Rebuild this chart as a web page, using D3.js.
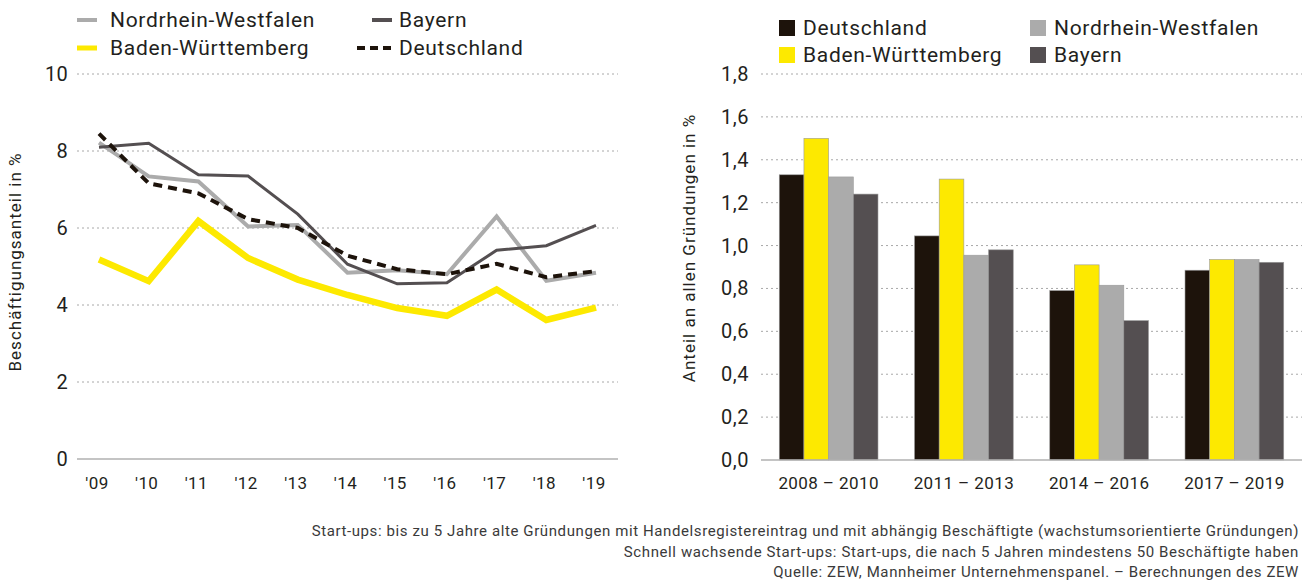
<!DOCTYPE html>
<html><head><meta charset="utf-8">
<script src="https://cdn.jsdelivr.net/npm/d3@7"></script>
<style>
html,body{margin:0;padding:0;background:#fff;overflow:hidden;}
svg{display:block;font-family:Roboto,"Noto Sans",sans-serif;}
</style></head><body>
<svg id="c" width="1302" height="582"></svg>
<script>
// ---- Left chart data ----
const years = ["'09","'10","'11","'12","'13","'14","'15","'16","'17","'18","'19"];
const nrwLine = [8.22, 7.34, 7.21, 6.04, 6.08, 4.84, 4.9, 4.8, 6.3, 4.63, 4.84];
const bayernLine = [8.1, 8.2, 7.38, 7.35, 6.36, 5.06, 4.55, 4.58, 5.42, 5.54, 6.07];
const deLine = [8.45, 7.16, 6.9, 6.23, 6.0, 5.28, 4.93, 4.8, 5.07, 4.72, 4.88];
const bwLine = [5.18, 4.62, 6.18, 5.22, 4.66, 4.26, 3.92, 3.72, 4.4, 3.61, 3.93];
const leftTicks = [0, 2, 4, 6, 8, 10];
const leftTitle = "Beschäftigungsanteil in %";

// ---- Right chart data ----
const periods = ["2008 – 2010", "2011 – 2013", "2014 – 2016", "2017 – 2019"];
const deBars = [1.33, 1.045, 0.79, 0.885];
const bwBars = [1.50, 1.31, 0.91, 0.935];
const nrwBars = [1.32, 0.955, 0.815, 0.935];
const bayernBars = [1.24, 0.98, 0.65, 0.922];
const rightTicks = [0, 0.2, 0.4, 0.6, 0.8, 1.0, 1.2, 1.4, 1.6, 1.8];
const rightTitle = "Anteil an allen Gründungen in %";

const footer = [
  "Start-ups: bis zu 5 Jahre alte Gründungen mit Handelsregistereintrag und mit abhängig Beschäftigte (wachstumsorientierte Gründungen)",
  "Schnell wachsende Start-ups: Start-ups, die nach 5 Jahren mindestens 50 Beschäftigte haben",
  "Quelle: ZEW, Mannheimer Unternehmenspanel. – Berechnungen des ZEW"
];

const C = {de:"#1d130b", bw:"#fde900", nrw:"#ababab", by:"#544f51", text:"#231f20", grid:"#a8a8a8"};
const svg = d3.select("#c");
const fmt = d3.format(".1f");

// ===== Left chart =====
const L = {x0:77, x1:618, top:74, bottom:459};
const xL = d3.scalePoint().domain(years).range([99, 596]);
const yL = d3.scaleLinear().domain([0, 10]).range([L.bottom, L.top]);

const gL = svg.append("g");
gL.selectAll("line.grid").data(leftTicks).join("line")
  .attr("x1", L.x0).attr("x2", L.x1)
  .attr("y1", d => yL(d)).attr("y2", d => yL(d))
  .attr("stroke", d => d === 0 ? "#b0b0b0" : C.grid)
  .attr("stroke-width", d => d === 0 ? 1.5 : 1)
  .attr("stroke-dasharray", d => d === 0 ? null : "2,3");
gL.selectAll("text.yt").data(leftTicks).join("text")
  .attr("x", 68).attr("y", d => yL(d)).attr("dy", "0.35em")
  .attr("text-anchor", "end").attr("font-size", 20).attr("letter-spacing", 0.3).attr("fill", C.text)
  .text(d => d);
gL.selectAll("text.xt").data(years).join("text")
  .attr("x", d => xL(d) - 2).attr("y", 483).attr("dy", "0.35em")
  .attr("text-anchor", "middle").attr("font-size", 17).attr("letter-spacing", 0.4).attr("fill", C.text)
  .text(d => d);
gL.append("text").attr("transform", `translate(21,262) rotate(-90)`)
  .attr("text-anchor", "middle").attr("font-size", 17).attr("letter-spacing", 1).attr("fill", C.text)
  .text(leftTitle);

const lineGen = d3.line().x((d, i) => xL(years[i])).y(d => yL(d));
const seriesL = [
  {v: bwLine, c: C.bw, w: 6.5, dash: null},
  {v: nrwLine, c: C.nrw, w: 4, dash: null},
  {v: bayernLine, c: C.by, w: 3, dash: null},
  {v: deLine, c: C.de, w: 4, dash: "9,6"}
];
gL.selectAll("path.ln").data(seriesL).join("path")
  .attr("d", d => lineGen(d.v)).attr("fill", "none")
  .attr("stroke", d => d.c).attr("stroke-width", d => d.w)
  .attr("stroke-dasharray", d => d.dash).attr("stroke-linejoin", "miter");

// left legend
const legL = [
  {t:"Nordrhein-Westfalen", c:C.nrw, y:20, w:4, dash:null, sx0:77, sx1:97, tx:110},
  {t:"Bayern", c:C.by, y:20, w:4, dash:null, sx0:372, sx1:392, tx:399},
  {t:"Baden-Württemberg", c:C.bw, y:48, w:5, dash:null, sx0:77, sx1:97, tx:110},
  {t:"Deutschland", c:C.de, y:48, w:4, dash:"8,5", sx0:357, sx1:392, tx:399}
];
legL.forEach(d => {
  gL.append("line").attr("x1", d.sx0).attr("x2", d.sx1).attr("y1", d.y).attr("y2", d.y)
    .attr("stroke", d.c).attr("stroke-width", d.w).attr("stroke-dasharray", d.dash);
  gL.append("text").attr("x", d.tx).attr("y", d.y).attr("dy", "0.35em")
    .attr("font-size", 21).attr("letter-spacing", 0.7).attr("fill", C.text).text(d.t);
});

// ===== Right chart =====
const R = {x0:761, x1:1302, top:74, bottom:460};
const xR = d3.scaleBand().domain(periods).range([R.x0, R.x1]).paddingInner(0.27).paddingOuter(0.135);
const keys = ["de","bw","nrw","by"];
const xSub = d3.scaleBand().domain(keys).range([0, xR.bandwidth()]);
const yR = d3.scaleLinear().domain([0, 1.8]).range([R.bottom, R.top]);
const gR = svg.append("g");
gR.selectAll("line.grid").data(rightTicks.filter(d => d > 0)).join("line")
  .attr("x1", R.x0).attr("x2", R.x1)
  .attr("y1", d => yR(d)).attr("y2", d => yR(d))
  .attr("stroke", C.grid).attr("stroke-dasharray", "2,3");
gR.selectAll("text.yt").data(rightTicks).join("text")
  .attr("x", 749).attr("y", d => yR(d)).attr("dy", "0.35em")
  .attr("text-anchor", "end").attr("font-size", 20).attr("letter-spacing", 0.5).attr("fill", C.text)
  .text(d => fmt(d).replace(".", ","));
gR.append("text").attr("transform", `translate(695,248) rotate(-90)`)
  .attr("text-anchor", "middle").attr("font-size", 17).attr("letter-spacing", 1).attr("fill", C.text)
  .text(rightTitle);

const barData = [];
periods.forEach((p, i) => {
  barData.push({p, k:"de", v:deBars[i]});
  barData.push({p, k:"bw", v:bwBars[i]});
  barData.push({p, k:"nrw", v:nrwBars[i]});
  barData.push({p, k:"by", v:bayernBars[i]});
});
gR.selectAll("rect.bar").data(barData).join("rect")
  .attr("x", d => xR(d.p) + xSub(d.k)).attr("width", xSub.bandwidth())
  .attr("y", d => yR(d.v)).attr("height", d => yR(0) - yR(d.v))
  .attr("fill", d => C[d.k]).attr("stroke", "#9a9a9a").attr("stroke-width", 0.6);
gR.append("line").attr("x1", R.x0).attr("x2", R.x1).attr("y1", yR(0)).attr("y2", yR(0))
  .attr("stroke", "#b0b0b0").attr("stroke-width", 1.5);
gR.selectAll("text.xt").data(periods).join("text")
  .attr("x", d => xR(d) + xR.bandwidth() / 2).attr("y", 483).attr("dy", "0.35em")
  .attr("text-anchor", "middle").attr("font-size", 17).attr("letter-spacing", 0.4).attr("fill", C.text)
  .text(d => d);

const legR = [
  {t:"Deutschland", c:C.de, x:779, y:28},
  {t:"Nordrhein-Westfalen", c:C.nrw, x:1030, y:28},
  {t:"Baden-Württemberg", c:C.bw, x:779, y:55},
  {t:"Bayern", c:C.by, x:1030, y:55}
];
legR.forEach(d => {
  gR.append("rect").attr("x", d.x).attr("y", d.y - 8).attr("width", 16).attr("height", 16).attr("fill", d.c);
  gR.append("text").attr("x", d.x + 24).attr("y", d.y).attr("dy", "0.35em")
    .attr("font-size", 21).attr("letter-spacing", 0.7).attr("fill", C.text).text(d.t);
});

// footer
svg.selectAll("text.ft").data(footer).join("text")
  .attr("x", 1299).attr("y", (d, i) => 531 + i * 20.5).attr("dy", "0.35em")
  .attr("text-anchor", "end").attr("font-size", 15).attr("letter-spacing", 0.6).attr("fill", "#3a3a3a")
  .text(d => d);
</script></body></html>
